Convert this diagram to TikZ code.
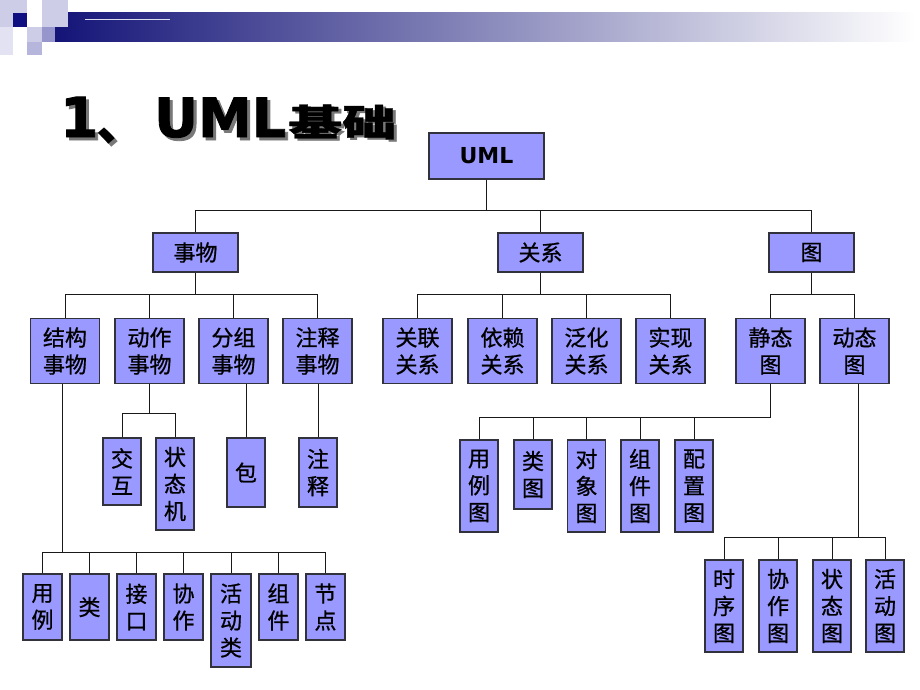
\documentclass[tikz,border=0pt]{standalone}
\usepackage{fontspec}
\setmainfont{DejaVu Sans}
\newfontfamily\cjk[RawFeature={embolden=0.8}]{Noto Sans CJK SC}
\newfontfamily\cjkt{Noto Sans CJK SC}
\newfontfamily\heavy[RawFeature={embolden=1.5}]{DejaVu Sans Bold}
\newfontfamily\boxlat{DejaVu Sans Bold}
\definecolor{boxfill}{RGB}{153,153,255}
\definecolor{boxline}{RGB}{50,50,60}
\definecolor{navy}{RGB}{20,20,120}
\definecolor{barmid}{RGB}{165,165,192}
\definecolor{sqlight}{RGB}{205,205,232}
\definecolor{sqvlight}{RGB}{226,226,242}
\definecolor{sqmed}{RGB}{150,150,205}
\definecolor{sqnavy}{RGB}{15,15,130}
\definecolor{shadowgray}{RGB}{120,120,120}
\newcommand{\shadowed}[1]{\rlap{\kern3pt\raisebox{-3pt}{\color{shadowgray}#1}}#1}
\tikzset{
  bx/.style={draw=boxline, line width=1.1pt, fill=boxfill, inner sep=0pt,
    align=center, font=\cjk\fontsize{22}{27}\selectfont},
  conn/.style={draw=black!90, line width=0.9pt},
  ttl/.style={anchor=base west, inner sep=0},
}
\begin{document}
\begin{tikzpicture}[x=1pt,y=-1pt]
\useasboundingbox (0,0) rectangle (920,690);
% header bar
\shade[left color=navy, middle color=barmid, right color=white] (55,13) rectangle (915,42);
\draw[sqlight!70!white, line width=0.6pt] (85,19) -- (170,19);
% decorative squares
\fill[sqlight] (0,0) rectangle (27,13);
\fill[sqlight] (0,13) rectangle (13,27);
\fill[sqnavy] (13,13) rectangle (27,27);
\fill[sqlight] (42,0) rectangle (68,27);
\fill[sqvlight] (0,27) rectangle (13,55);
\fill[sqlight] (27,27) rectangle (42,42);
\fill[sqmed] (42,27) rectangle (55,42);
\fill[sqmed!70!white] (27,42) rectangle (42,55);
% title with shadow
\node[ttl, font=\heavy\fontsize{55}{60}\selectfont] (t1) at (60,137) {\shadowed{1}};
\node[ttl, font=\cjkt\bfseries\fontsize{50}{55}\selectfont] (t2) at (96,140) {\shadowed{、}};
\node[ttl, font=\heavy\fontsize{54}{60}\selectfont] (t3) at (154,137) {\shadowed{UML}};
\node[ttl, font=\cjk\bfseries\fontsize{54}{60}\selectfont] (t4) at (288,136) {\scalebox{1}[0.68]{\shadowed{基础}}};

% root
\node[bx, minimum width=115, minimum height=46, font=\boxlat\fontsize{22}{26}\selectfont] (uml) at (486.5,156) {UML};
% level 1
\node[bx, minimum width=85, minimum height=39] (shiwu) at (195.5,252.5) {事物};
\node[bx, minimum width=85, minimum height=39] (guanxi) at (540.5,252.5) {关系};
\node[bx, minimum width=85, minimum height=39] (tu) at (811.5,252.5) {图};
% level 2
\foreach \n/\x/\t in {jg/65/结构\\事物, dz/149.5/动作\\事物, fz/233.5/分组\\事物, zs/317.5/注释\\事物,
  gl/417.5/关联\\关系, yl/502.5/依赖\\关系, fh/586.5/泛化\\关系, sx/670.5/实现\\关系,
  jt/770.5/静态\\图, dt/854.5/动态\\图}
  \node[bx, minimum width=69, minimum height=65] (\n) at (\x,351) {\t};
% action / grouping / annotation children
\node[bx, minimum width=38, minimum height=67] (jh) at (122,471.5) {交\\互};
\node[bx, minimum width=38, minimum height=92] (ztj) at (175,484) {状\\态\\机};
\node[bx, minimum width=38, minimum height=69] (bao) at (246,472.5) {包};
\node[bx, minimum width=38, minimum height=69] (zsj) at (318,472.5) {注\\释};
% static diagrams
\node[bx, minimum width=38, minimum height=92] (ylt) at (479,486) {用\\例\\图};
\node[bx, minimum width=38, minimum height=69] (lt) at (533,474.5) {类\\图};
\node[bx, minimum width=38, minimum height=92] (dxt) at (586.5,486) {对\\象\\图};
\node[bx, minimum width=38, minimum height=92] (zjt) at (640,486) {组\\件\\图};
\node[bx, minimum width=38, minimum height=92] (pzt) at (694,486) {配\\置\\图};
% dynamic diagrams
\node[bx, minimum width=38, minimum height=92] (sxt) at (724,606) {时\\序\\图};
\node[bx, minimum width=38, minimum height=92] (xzt) at (778,606) {协\\作\\图};
\node[bx, minimum width=38, minimum height=92] (ztt) at (832,606) {状\\态\\图};
\node[bx, minimum width=38, minimum height=92] (hdt) at (885,606) {活\\动\\图};
% structural things
\node[bx, minimum width=39, minimum height=66] (yl2) at (42.5,607) {用\\例};
\node[bx, minimum width=39, minimum height=66] (lei) at (89.5,607) {类};
\node[bx, minimum width=39, minimum height=66] (jk) at (136.5,607) {接\\口};
\node[bx, minimum width=39, minimum height=66] (xz) at (183.5,607) {协\\作};
\node[bx, minimum width=40, minimum height=93] (hdl) at (231,620.5) {活\\动\\类};
\node[bx, minimum width=39, minimum height=66] (zj) at (278.5,607) {组\\件};
\node[bx, minimum width=39, minimum height=66] (jd) at (325.5,607) {节\\点};

% connectors
\coordinate (b1) at (0,210);
\draw[conn] (uml.south) -- (uml.south |- b1);
\draw[conn] (shiwu.north) -- (shiwu.north |- b1) -- (tu.north |- b1) -- (tu.north);
\draw[conn] (guanxi.north) -- (guanxi.north |- b1);

\coordinate (b2) at (0,294);
\draw[conn] (shiwu.south) -- (shiwu.south |- b2);
\draw[conn] (jg.north) -- (jg.north |- b2) -- (zs.north |- b2) -- (zs.north);
\draw[conn] (dz.north) -- (dz.north |- b2);
\draw[conn] (fz.north) -- (fz.north |- b2);
\draw[conn] (guanxi.south) -- (guanxi.south |- b2);
\draw[conn] (gl.north) -- (gl.north |- b2) -- (sx.north |- b2) -- (sx.north);
\draw[conn] (yl.north) -- (yl.north |- b2);
\draw[conn] (fh.north) -- (fh.north |- b2);
\draw[conn] (tu.south) -- (tu.south |- b2);
\draw[conn] (jt.north) -- (jt.north |- b2) -- (dt.north |- b2) -- (dt.north);

\coordinate (b3) at (0,413);
\draw[conn] (dz.south) -- (dz.south |- b3);
\draw[conn] (jh.north) -- (jh.north |- b3) -- (ztj.north |- b3) -- (ztj.north);
\draw[conn] (bao.north) -- (bao.north |- fz.south);
\draw[conn] (zsj.north) -- (zsj.north |- zs.south);

\coordinate (b4) at (0,417);
\draw[conn] (jt.south) -- (jt.south |- b4) -- (ylt.north |- b4) -- (ylt.north);
\draw[conn] (lt.north) -- (lt.north |- b4);
\draw[conn] (dxt.north) -- (dxt.north |- b4);
\draw[conn] (zjt.north) -- (zjt.north |- b4);
\draw[conn] (pzt.north) -- (pzt.north |- b4);

\coordinate (b5) at (0,537);
\coordinate (dtdrop) at ([xshift=3.5pt]dt.south);
\draw[conn] (dtdrop) -- (dtdrop |- b5);
\draw[conn] (sxt.north) -- (sxt.north |- b5) -- (hdt.north |- b5) -- (hdt.north);
\draw[conn] (xzt.north) -- (xzt.north |- b5);
\draw[conn] (ztt.north) -- (ztt.north |- b5);

\coordinate (b6) at (0,552);
\coordinate (jgdrop) at ([xshift=-3pt]jg.south);
\draw[conn] (jgdrop) -- (jgdrop |- b6);
\draw[conn] (yl2.north) -- (yl2.north |- b6) -- (jd.north |- b6) -- (jd.north);
\foreach \c in {lei,jk,xz,hdl,zj} \draw[conn] (\c.north) -- (\c.north |- b6);
\end{tikzpicture}
\end{document}
